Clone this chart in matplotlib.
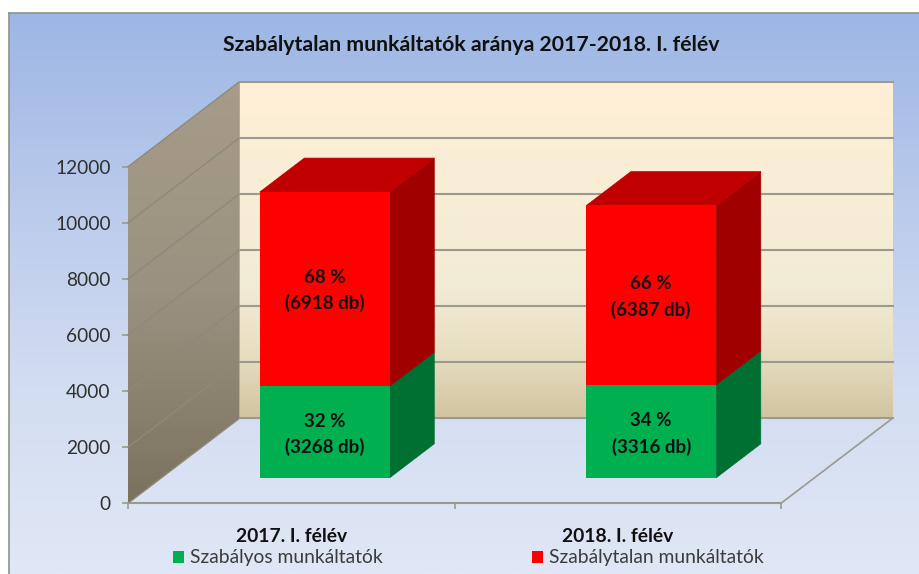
import numpy as np
import matplotlib
matplotlib.use("Agg")
import matplotlib.pyplot as plt
from matplotlib.colors import LinearSegmentedColormap
from matplotlib.patches import Polygon, Patch

plt.rcParams['font.family'] = ['Lato', 'DejaVu Sans']

title = "Szabálytalan munkáltatók aránya 2017-2018. I. félév"
categories = ["2017. I. félév", "2018. I. félév"]
regular = [3268, 3316]
irregular = [6918, 6387]
regular_pct = [32, 34]
irregular_pct = [68, 66]
series_names = ["Szabályos munkáltatók", "Szabálytalan munkáltatók"]
yticks = [0, 2000, 4000, 6000, 8000, 10000, 12000]

W, H = 919, 574
fig = plt.figure(figsize=(W / 100, H / 100), dpi=100, facecolor="white")

def fig_rect(x0, y0, x1, y1):
    return [x0 / W, 1 - y1 / H, (x1 - x0) / W, (y1 - y0) / H]

# chart-area background
bg = fig.add_axes(fig_rect(9, 13, W, H), zorder=0)
bg_cm = LinearSegmentedColormap.from_list("bg", ["#9DB6E4", "#B9CAEB", "#D3DDF1", "#E0E7F6"])
bg.imshow(np.linspace(0, 1, 256)[:, None], aspect="auto", cmap=bg_cm, extent=(0, 1, 0, 1))
bg.set_xticks([]); bg.set_yticks([])
for k, s in bg.spines.items():
    s.set_visible(k in ("top", "left"))
    s.set_color("#8E9488"); s.set_linewidth(1.2)

# front plane of the oblique box: x in categories, y in values
ax = fig.add_axes(fig_rect(128, 166.7, 781, 503.3), zorder=1)
ax.patch.set_alpha(0)
n = len(categories)
ax.set_xlim(0, n)
ax.set_ylim(0, 12000)

DEPTH_X = 111.5 / 326.5   # category units per full depth
DEPTH_Y = 85 / (336.6 / 12000)  # value units per full depth
GRID = "#9A9A90"

def proj(x, v, d):
    return (x + d * DEPTH_X, v + d * DEPTH_Y)

# back wall
wall_cm = LinearSegmentedColormap.from_list(
    "wall", [(0, "#FFEFD5"), (0.6, "#F3ECD6"), (0.8, "#E8DFC3"), (1, "#D2C4A0")])
back = ax.imshow(np.linspace(0, 1, 256)[:, None], aspect="auto", cmap=wall_cm, zorder=1,
                 extent=(proj(0, 0, 1)[0], proj(n, 0, 1)[0], proj(0, 0, 1)[1], proj(0, 12000, 1)[1]),
                 clip_on=False)

# side wall
side_poly = Polygon([proj(0, 0, 0), proj(0, 12000, 0), proj(0, 12000, 1), proj(0, 0, 1)],
                    closed=True, transform=ax.transData, fc="none", ec="none", clip_on=False)
ax.add_patch(side_poly)
side_cm = LinearSegmentedColormap.from_list(
    "side", [(0, "#A69C88"), (0.5, "#9A9180"), (1, "#7B725E")])
side = ax.imshow(np.linspace(0, 1, 256)[:, None], aspect="auto", cmap=side_cm, zorder=1,
                 extent=(proj(0, 0, 0)[0], proj(0, 0, 1)[0], 0, proj(0, 12000, 1)[1]))
side.set_clip_box(fig.bbox)
side.set_clip_path(side_poly)
ax.set_xlim(0, n)
ax.set_ylim(0, 12000)

# gridlines
for v in yticks:
    (x0, y0), (x1, y1), (x2, y2) = proj(0, v, 0), proj(0, v, 1), proj(n, v, 1)
    ax.plot([x0, x1], [y0, y1], color="#8F897A", lw=1, zorder=2, clip_on=False)
    ax.plot([x1, x2], [y1, y2], color=GRID, lw=1.5, zorder=2, clip_on=False)
(x0, y0), (x1, y1) = proj(n, 0, 0), proj(n, 0, 1)
ax.plot([x0, x1], [y0, y1], color=GRID, lw=1.2, zorder=2, clip_on=False)

# bars
BAR_W = 0.398
D_FRONT, D_BACK = 0.3, 0.7
reg = np.array(regular, float)
irr = np.array(irregular, float)
centers = np.arange(n) + 0.5

def side_face(xr, v0, v1, color, z):
    ax.add_patch(Polygon([proj(xr, v0, D_FRONT), proj(xr, v1, D_FRONT),
                          proj(xr, v1, D_BACK), proj(xr, v0, D_BACK)],
                         closed=True, fc=color, ec=color, lw=0.5, zorder=z, clip_on=False))

for i, c in enumerate(centers):
    xl, xr = c - BAR_W / 2, c + BAR_W / 2
    side_face(xr, 0, reg[i], "#006F32", 3)
    side_face(xr, reg[i], reg[i] + irr[i], "#A00000", 3)
    top = reg[i] + irr[i]
    ax.add_patch(Polygon([proj(xl, top, D_FRONT), proj(xr, top, D_FRONT),
                          proj(xr, top, D_BACK), proj(xl, top, D_BACK)],
                         closed=True, fc="#C00000", ec="#C00000", lw=0.5, zorder=3, clip_on=False))

fx, fy = proj(centers, 0, D_FRONT)
ax.bar(fx, reg, BAR_W, bottom=fy, color="#00B050", zorder=4, clip_on=False)
ax.bar(fx, irr, BAR_W, bottom=fy + reg, color="#FF0000", zorder=4, clip_on=False)

# value labels
for i in range(n):
    ax.text(fx[i], fy + reg[i] / 2 - 100, f"{regular_pct[i]} %\n({regular[i]} db)", ha="center", va="center",
            fontsize=13.5, fontweight="bold", color="#101010", zorder=5, linespacing=1.55, clip_on=False)
    ax.text(fx[i], fy + reg[i] + irr[i] / 2 - 60, f"{irregular_pct[i]} %\n({irregular[i]} db)", ha="center", va="center",
            fontsize=13.5, fontweight="bold", color="#101010", zorder=5, linespacing=1.55, clip_on=False)

# axes furniture
for k, s in ax.spines.items():
    s.set_visible(k == "bottom")
    s.set_color(GRID); s.set_linewidth(1.5)
ax.set_yticks(yticks)
ax.set_yticklabels([str(v) for v in yticks], fontsize=13.8, color="#303030")
ax.set_xticks(np.arange(n + 1))
ax.set_xticklabels([""] * (n + 1))
ax.set_xticks(centers, minor=True)
ax.set_xticklabels(categories, minor=True, fontsize=13.9, fontweight="bold", color="#101010")
ax.tick_params(axis="x", which="minor", length=0, pad=17.5)
ax.tick_params(axis="x", which="major", length=4.5, width=1.2, color=GRID)
ax.tick_params(axis="y", length=4.5, width=1.2, color=GRID, pad=8)

fig.text(471 / W, 1 - 45 / H, title, ha="center", va="center", fontsize=15.3,
         fontweight="bold", color="#101010")

handles = [Patch(fc="#00B050", ec="none"), Patch(fc="#FF0000", ec="none")]
fig.legend(handles, series_names, ncols=2, frameon=False, fontsize=13.9, labelcolor="#3C3C3C",
           loc="center left", bbox_to_anchor=(163 / W, 1 - 558 / H),
           handlelength=0.6, handleheight=0.6, handletextpad=0.3, columnspacing=7.72, borderpad=0)

fig.savefig("out.png", dpi=100, facecolor="white")
